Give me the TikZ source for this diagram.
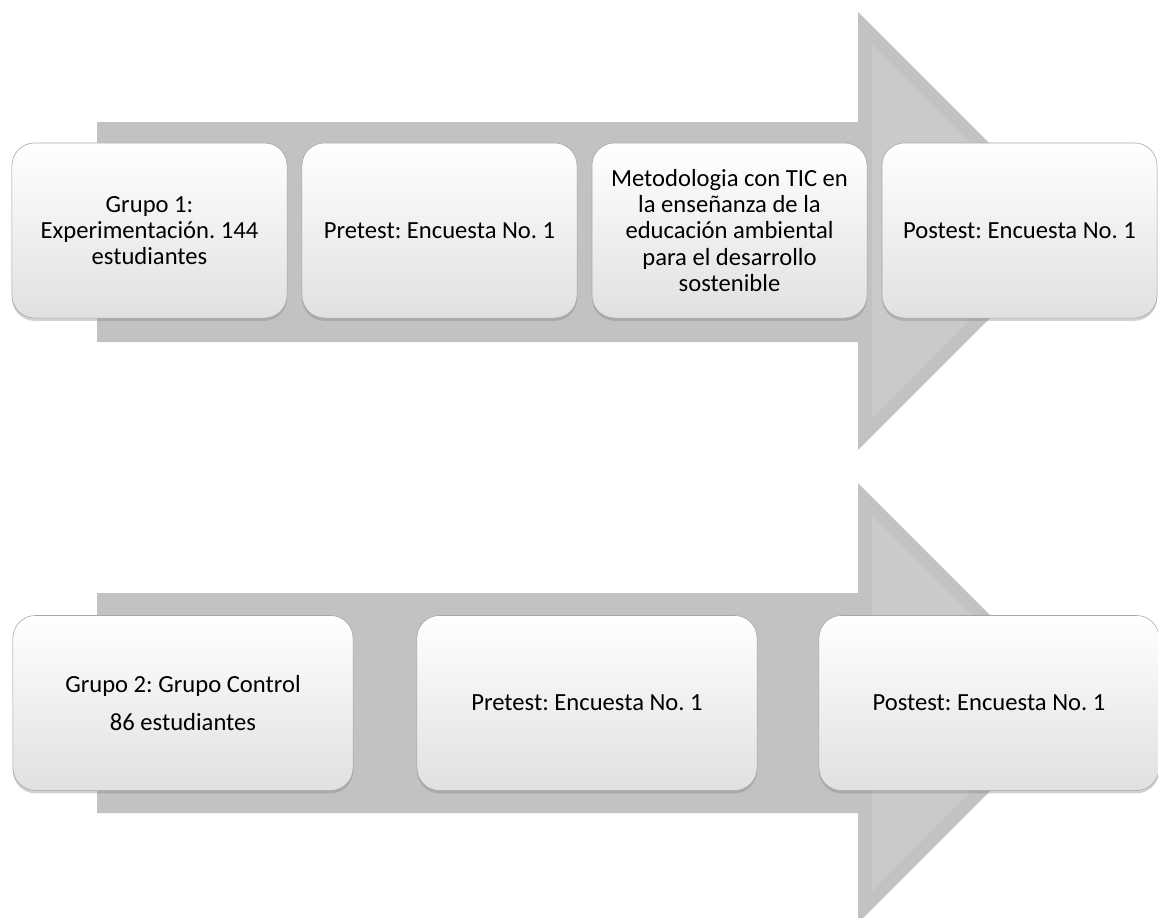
\documentclass[tikz,border=0pt]{standalone}
\usepackage{fontspec}
\setmainfont{Carlito}
\definecolor{arrowgray}{RGB}{194, 194, 194}
\definecolor{bevelgray}{RGB}{202, 202, 202}
\definecolor{cardedge}{RGB}{165, 165, 165}
\usetikzlibrary{shadows}

\tikzset{
  card/.style={rounded corners=16pt, draw=cardedge, top color=white, bottom color=black!12,
    minimum height=4.375cm, inner sep=0pt, align=center,
    font=\fontsize{17.5}{18.7}\selectfont,
    drop shadow={opacity=0.35, shadow xshift=0pt, shadow yshift=-2pt}},
  bigarrow/.style={fill=arrowgray, draw=none}
}

\begin{document}
\frenchspacing
\begin{tikzpicture}[x=0.025cm, y=-0.025cm]
\clip (0,0) rectangle (1158,917);
\fill[white] (0,0) rectangle (1158,917);

% grupo 1
\path[bigarrow] (97,122) -- (858,122) -- (858,12) -- (1077,231) -- (858,450) -- (858,342) -- (97,342) -- cycle;
\fill[bevelgray] (872,44) -- (1058,231) -- (872,418) -- cycle;
\foreach \i/\x/\txt in {1/149.5/{Grupo 1:\\Experimentación. 144\\estudiantes},
                        2/439.5/{Pretest: Encuesta No. 1},
                        3/729.5/{Metodologia con TIC en\\la enseñanza de la\\educación ambiental\\para el desarrollo\\sostenible},
                        4/1019.5/{Postest: Encuesta No. 1}} {
  \node[card, minimum width=6.875cm] (top\i) at (\x,230.5) {\txt};
}

% grupo 2
\path[bigarrow] (97,593) -- (858,593) -- (858,483) -- (1078,703) -- (858,923) -- (858,813) -- (97,813) -- cycle;
\fill[bevelgray] (872,515) -- (1059,703) -- (872,891) -- cycle;
\foreach \i/\x/\txt in {1/183/{Grupo 2: Grupo Control\\[8pt]86 estudiantes},
                        2/587/{Pretest: Encuesta No. 1},
                        3/989/{Postest: Encuesta No. 1}} {
  \node[card, minimum width=8.5cm] (bot\i) at (\x,703) {\txt};
}
\end{tikzpicture}
\end{document}
